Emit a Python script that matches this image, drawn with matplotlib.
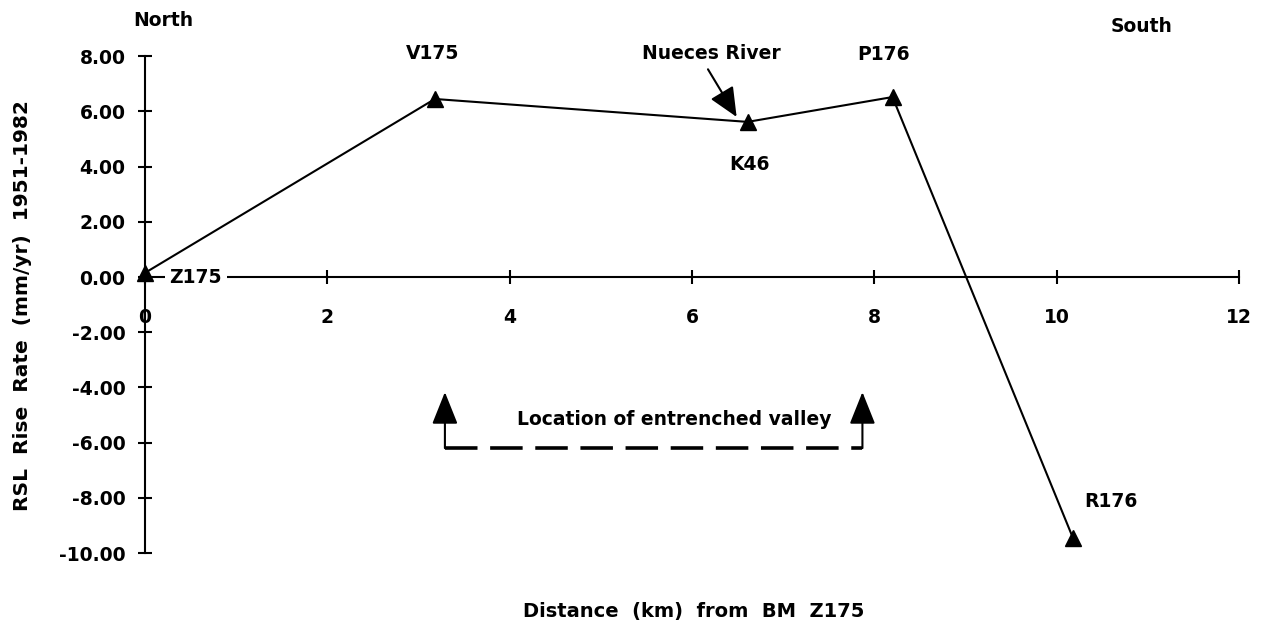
import matplotlib.pyplot as plt

plt.rcParams['font.family'] = ['DejaVu Sans']
plt.rcParams['font.weight'] = 'bold'

# benchmark profile, distance along line vs. relative sea-level rise rate
stations = ['Z175', 'V175', 'K46', 'P176', 'R176']
dist_km = [0.0, 3.18, 6.61, 8.2, 10.18]
rsl_rate = [0.15, 6.45, 5.62, 6.52, -9.46]

x_ticks = [0, 2, 4, 6, 8, 10, 12]
y_ticks = [8, 6, 4, 2, 0, -2, -4, -6, -8, -10]
y_tick_labels = ['%.2f' % v for v in y_ticks]

# entrenched valley extent (km) and level of the bracket
valley_start = 3.29
valley_end = 7.87
valley_base = -6.2
valley_top = -4.17

fig = plt.figure(figsize=(12.65, 6.3), dpi=100)
ax = fig.add_axes([0.093, 0.1003, 0.908, 0.8324])
ax.set_xlim(-0.3, 12.3)
ax.set_ylim(-10.5, 8.5)

for s in ['top', 'right']:
    ax.spines[s].set_visible(False)
ax.spines['left'].set_position(('data', 0))
ax.spines['bottom'].set_position(('data', 0))
ax.spines['left'].set_bounds(-10, 8)
ax.spines['bottom'].set_bounds(0, 12)
ax.spines['left'].set_linewidth(1.5)
ax.spines['bottom'].set_linewidth(1.5)

ax.set_xticks(x_ticks)
ax.set_xticklabels([str(v) for v in x_ticks])
ax.set_yticks(y_ticks)
ax.set_yticklabels(y_tick_labels)
ax.tick_params(axis='both', direction='inout', length=10, width=1.5,
               labelsize=13.5)
ax.tick_params(axis='x', pad=17)
ax.tick_params(axis='y', pad=9)
for lab in ax.get_xticklabels() + ax.get_yticklabels():
    lab.set_fontweight('bold')

ax.plot(dist_km, rsl_rate, color='black', lw=1.5, marker='^', ms=11,
        clip_on=False, zorder=3)

# station labels
label_pos = {
    'V175': (3.15, 8.1),
    'K46': (6.63, 4.08),
    'P176': (8.1, 8.05),
    'R176': (10.6, -8.15),
}
for name, x, y in zip(stations, dist_km, rsl_rate):
    if name == 'Z175':
        ax.text(x + 0.27, 0.0, name, fontsize=13.5, fontweight='bold',
                ha='left', va='center', zorder=4,
                bbox=dict(facecolor='white', edgecolor='none', pad=3.5))
    else:
        tx, ty = label_pos[name]
        ax.text(tx, ty, name, fontsize=13.5, fontweight='bold',
                ha='center', va='center')

ax.annotate('Nueces River', xy=(6.49, 5.8), xytext=(6.21, 8.1),
            fontsize=13.5, fontweight='bold', ha='center', va='center',
            arrowprops=dict(arrowstyle='-|>,head_length=1.0,head_width=0.45',
                            color='black', lw=1.5, shrinkA=3, shrinkB=0,
                            mutation_scale=18, relpos=(0.45, 0.0)))

# bracket marking the entrenched valley
ax.plot([valley_start, valley_end], [valley_base, valley_base],
        color='black', lw=2.6, dashes=(9, 3.5), solid_capstyle='butt')
for vx in (valley_start, valley_end):
    ax.annotate('', xy=(vx, valley_top), xytext=(vx, valley_base),
                arrowprops=dict(arrowstyle='-|>,head_length=1.0,head_width=0.4',
                                color='black', lw=1.5, shrinkA=0, shrinkB=0,
                                mutation_scale=20))
ax.text((valley_start + valley_end) / 2 + 0.23, -5.18,
        'Location of entrenched valley', fontsize=13.5, fontweight='bold',
        ha='center', va='center')

fig.text(163 / 1265, 1 - 20 / 630, 'North', fontsize=13.5, fontweight='bold',
         ha='center', va='center')
fig.text(1142 / 1265, 1 - 27 / 630, 'South', fontsize=13.5, fontweight='bold',
         ha='center', va='center')
fig.text(23 / 1265, 1 - 306 / 630, 'RSL  Rise  Rate  (mm/yr)  1951-1982',
         fontsize=14.5, fontweight='bold', rotation=90, ha='center', va='center')
fig.text(694 / 1265, 1 - 612 / 630, 'Distance  (km)  from  BM  Z175',
         fontsize=14, fontweight='bold', ha='center', va='center')

fig.savefig('out.png', dpi=100)
